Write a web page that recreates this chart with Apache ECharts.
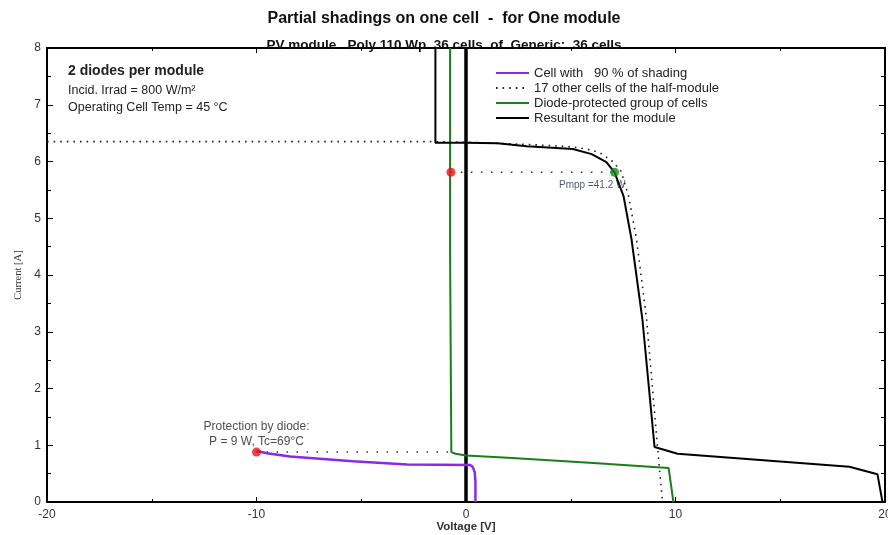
<!DOCTYPE html>
<html>
<head>
<meta charset="utf-8">
<script src="https://cdn.jsdelivr.net/npm/echarts@6/dist/echarts.min.js"></script>
<style>
html,body{margin:0;padding:0;background:#fff;overflow:hidden;}
#c{width:888px;height:535px;}
</style>
</head>
<body>
<div id="c"></div>
<script>
// ---- data (Voltage [V], Current [A]) ----
const xTicks = [-20, -10, 0, 10, 20];
const yTicks = [0, 1, 2, 3, 4, 5, 6, 7, 8];

const cellV = [-10, -9.5, -8.4, -5.4, -2.8, 0.2, 0.32, 0.42, 0.45, 0.45];
const cellI = [0.9, 0.86, 0.8, 0.72, 0.66, 0.65, 0.62, 0.52, 0.35, 0];

const otherV = [-20, -1.46, 0, 3, 5.0, 5.75, 6.37, 7.0, 7.4, 7.76, 8.14, 8.62, 9.14, 9.38];
const otherI = [6.35, 6.35, 6.34, 6.3, 6.26, 6.22, 6.16, 6.0, 5.83, 5.39, 4.63, 3.22, 0.97, 0];

const groupV = [-0.76, -0.76, -0.7, -0.7, -0.5, 0, 2, 5.9, 9.67, 9.9];
const groupI = [8, 4.4, 4.4, 0.88, 0.85, 0.82, 0.78, 0.69, 0.6, 0];

const moduleV = [-1.46, -1.46, 0, 1.5, 2.9, 5.1, 6.0, 6.7, 7.09, 7.52, 7.9, 8.42, 9.0, 10.1, 18.3, 19.64, 19.88];
const moduleI = [8, 6.33, 6.33, 6.32, 6.27, 6.22, 6.13, 5.99, 5.81, 5.39, 4.63, 3.22, 0.97, 0.85, 0.62, 0.49, 0];

const zeroV = [0, 0];
const zeroI = [0, 8];

const protLineV = [-10, -0.7];
const protLineI = [0.88, 0.88];
const mppLineV = [-0.72, 7.09];
const mppLineI = [5.81, 5.81];

const protPoint = [-10, 0.88];
const diodePoint = [-0.72, 5.81];
const mppPoint = [7.09, 5.81];

const zip = (a, b) => a.map((v, i) => [v, b[i]]);

const FONT = 'Liberation Sans, Arial, sans-serif';
const chart = echarts.init(document.getElementById('c'), null, {renderer: 'canvas', width: 888, height: 535});

const baseX = {
  type: 'value', min: xTicks[0], max: xTicks[xTicks.length - 1], interval: 10,
  axisLine: {show: true, onZero: false, lineStyle: {color: '#000', width: 2}},
  axisTick: {show: true, inside: true, length: 5, lineStyle: {color: '#000', width: 1}},
  minorTick: {show: true, splitNumber: 2, length: 3, lineStyle: {color: '#000', width: 1}},
  splitLine: {show: false}
};
const baseY = {
  type: 'value', min: yTicks[0], max: yTicks[yTicks.length - 1], interval: 1,
  axisLine: {show: true, onZero: false, lineStyle: {color: '#000', width: 2}},
  axisTick: {show: true, inside: true, length: 6, lineStyle: {color: '#000', width: 1}},
  minorTick: {show: true, splitNumber: 2, length: 4, lineStyle: {color: '#000', width: 1}},
  splitLine: {show: false}
};

chart.setOption({
  animation: false,
  backgroundColor: '#fff',
  textStyle: {fontFamily: FONT},
  title: [
    {text: 'Partial shadings on one cell  -  for One module', left: 'center', top: 6,
     textStyle: {fontFamily: FONT, fontSize: 16, fontWeight: 'bold', color: '#111'}},
    {text: 'PV module   Poly 110 Wp  36 cells  of  Generic:  36 cells', left: 'center', top: 33,
     textStyle: {fontFamily: FONT, fontSize: 13.5, fontWeight: 'bold', color: '#111'}}
  ],
  grid: {left: 47, right: 3, top: 48, bottom: 33, containLabel: false, outerBoundsMode: 'none'},
  legend: {
    orient: 'vertical', left: 490, top: 61, itemWidth: 33, itemHeight: 10, itemGap: 1,
    data: ['Cell with   90 % of shading', '17 other cells of the half-module', 'Diode-protected group of cells', 'Resultant for the module'],
    itemStyle: {opacity: 0},
    textStyle: {fontFamily: FONT, fontSize: 13, color: '#222', lineHeight: 14},
    selectedMode: false
  },
  xAxis: [
    Object.assign({}, baseX, {
      position: 'bottom', name: 'Voltage [V]', nameLocation: 'middle', nameGap: 19, nameMoveOverlap: false,
      nameTextStyle: {fontFamily: FONT, fontSize: 11.5, fontWeight: 'bold', color: '#333'},
      axisLabel: {show: true, fontFamily: FONT, fontSize: 12, color: '#333', margin: 7}
    }),
    Object.assign({}, baseX, {position: 'top', axisLabel: {show: false}})
  ],
  yAxis: [
    Object.assign({}, baseY, {
      position: 'left', name: 'Current [A]', nameLocation: 'middle', nameGap: 23, nameMoveOverlap: false,
      nameTextStyle: {fontFamily: 'Liberation Serif, serif', fontSize: 10.5, color: '#333'},
      axisLabel: {show: true, fontFamily: FONT, fontSize: 12, color: '#333', margin: 6}
    }),
    Object.assign({}, baseY, {position: 'right', axisLabel: {show: false}})
  ],
  graphic: [
    {type: 'text', left: 68, top: 64, style: {text: '2 diodes per module', font: 'bold 14px Liberation Sans', fill: '#222'}},
    {type: 'text', left: 68, top: 84, style: {text: 'Incid. Irrad = 800 W/m²', font: '12.5px Liberation Sans', fill: '#222'}},
    {type: 'text', left: 68, top: 101, style: {text: 'Operating Cell Temp = 45 °C', font: '12.5px Liberation Sans', fill: '#222'}}
  ],
  series: [
    {name: 'zero', type: 'line', data: zip(zeroV, zeroI), symbol: 'none', silent: true,
     lineStyle: {color: '#000', width: 3.5}, z: 3},
    {name: 'protLine', type: 'line', data: zip(protLineV, protLineI), symbol: 'none',
     lineStyle: {color: '#333', width: 1.5, type: [1.5, 8.5]}, z: 2},
    {name: 'mppLine', type: 'line', data: zip(mppLineV, mppLineI), symbol: 'none',
     lineStyle: {color: '#333', width: 1.5, type: [1.5, 8.5]}, z: 2},
    {name: '17 other cells of the half-module', type: 'line', data: zip(otherV, otherI), symbol: 'none',
     color: '#222', lineStyle: {color: '#222', width: 1.6, type: [1.6, 5]}, z: 2},
    {name: 'Diode-protected group of cells', type: 'line', data: zip(groupV, groupI), symbol: 'none',
     color: '#1a7f1a', lineStyle: {color: '#1a7f1a', width: 2}, z: 4},
    {name: 'Cell with   90 % of shading', type: 'line', data: zip(cellV, cellI), symbol: 'none',
     color: '#8a2be2', lineStyle: {color: '#8a2be2', width: 2.5}, z: 4},
    {name: 'Resultant for the module', type: 'line', data: zip(moduleV, moduleI), symbol: 'none',
     color: '#000', lineStyle: {color: '#000', width: 2}, z: 5},
    {name: 'prot', type: 'scatter', data: [protPoint], symbolSize: 9, itemStyle: {color: '#f01010'}, z: 6,
     label: {show: true, position: 'top', distance: -2, formatter: 'Protection by diode:\nP = 9 W, Tc=69°C',
             fontFamily: FONT, fontSize: 12, color: '#222', lineHeight: 15, align: 'center'}},
    {name: 'diode', type: 'scatter', data: [diodePoint], symbolSize: 9, itemStyle: {color: '#f01010'}, z: 6},
    {name: 'mpp', type: 'scatter', data: [mppPoint], symbolSize: 9, itemStyle: {color: '#1a8a1a'}, z: 6,
     label: {show: true, position: [-51, 12], formatter: 'Pmpp =41.2 W', fontFamily: FONT, fontSize: 10,
             color: '#1f2a44', align: 'left', verticalAlign: 'top'}}
  ]
});
</script>
</body>
</html>
